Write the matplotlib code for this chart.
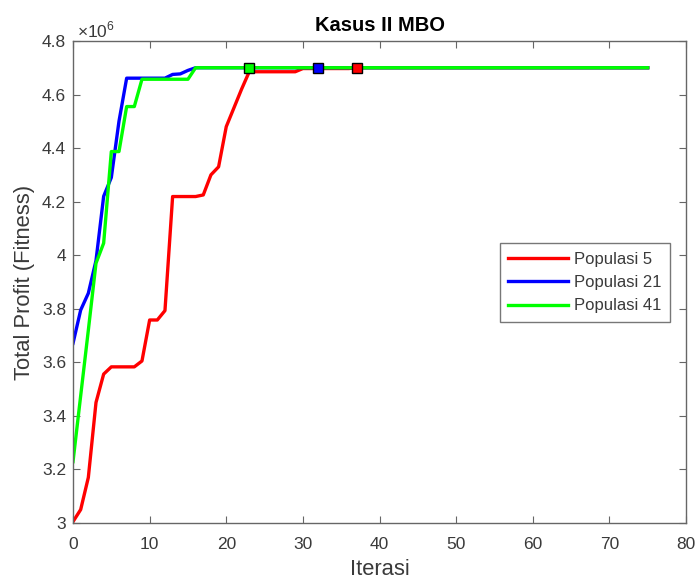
import numpy as np
import matplotlib.pyplot as plt
from matplotlib.ticker import FixedLocator, FixedFormatter

plt.rcParams['font.family'] = ['Liberation Sans', 'DejaVu Sans']
plt.rcParams['mathtext.fontset'] = 'custom'
plt.rcParams['mathtext.rm'] = 'Liberation Sans'

# data (values in millions), iterations 0..75
iterasi = list(range(76))
pop5 = ([3.005, 3.05, 3.17, 3.45, 3.556, 3.583, 3.583, 3.583, 3.583, 3.605,
         3.758, 3.758, 3.793, 4.219, 4.219, 4.219, 4.219, 4.225, 4.30, 4.33,
         4.48, 4.55, 4.62, 4.685, 4.685, 4.685, 4.685, 4.685, 4.685, 4.685]
        + [4.697] * 7 + [4.70] * 39)
pop21 = ([3.671, 3.795, 3.858, 3.98, 4.22, 4.29, 4.50, 4.661, 4.661, 4.661,
          4.661, 4.661, 4.661, 4.675, 4.677, 4.69] + [4.70] * 60)
pop41 = ([3.229, 3.475, 3.72, 3.97, 4.045, 4.387, 4.387, 4.555, 4.555, 4.657,
          4.657, 4.657, 4.657, 4.657, 4.657, 4.657] + [4.70] * 60)
# iteration where each population converged (square markers)
konvergen = {'Populasi 5': 37, 'Populasi 21': 32, 'Populasi 41': 23}

series = [('Populasi 5', pop5, '#ff0000'),
          ('Populasi 21', pop21, '#0000ff'),
          ('Populasi 41', pop41, '#00ff00')]

yticks = [3.0, 3.2, 3.4, 3.6, 3.8, 4.0, 4.2, 4.4, 4.6, 4.8]
ytick_labels = ['3', '3.2', '3.4', '3.6', '3.8', '4', '4.2', '4.4', '4.6', '4.8']
xticks = [0, 10, 20, 30, 40, 50, 60, 70, 80]

fig = plt.figure(figsize=(6.98, 5.85), dpi=100)
ax = fig.add_axes([0.1046, 0.106, 0.8782, 0.824])

for nama, nilai, warna in series:
    y = np.array(nilai) * 1e6
    ax.plot(iterasi, y, color=warna, lw=2.4, label=nama)

for nama, nilai, warna in series:
    k = konvergen[nama]
    ax.plot(k, nilai[k] * 1e6, 's', ms=6.5, mfc=warna, mec='black', mew=1.0)

ax.set_xlim(0, 80)
ax.set_ylim(3.0e6, 4.8e6)
ax.xaxis.set_major_locator(FixedLocator(xticks))
ax.yaxis.set_major_locator(FixedLocator([v * 1e6 for v in yticks]))
ax.yaxis.set_major_formatter(FixedFormatter(ytick_labels))

grey = '#3a3a3a'
for s in ax.spines.values():
    s.set_color('#666666')
    s.set_linewidth(1.0)
ax.tick_params(direction='in', top=True, right=True, length=5, width=0.8,
               colors='#666666', labelcolor=grey, labelsize=12.5)
ax.tick_params(axis='x', pad=10)
ax.tick_params(axis='y', pad=5)

ax.text(0.006, 1.002, r'$\times10^{6}$', transform=ax.transAxes, ha='left',
        va='bottom', fontsize=12.5, color=grey)
ax.set_title('Kasus II MBO', fontsize=14.5, fontweight='bold', color='black', pad=7)
ax.set_xlabel('Iterasi', fontsize=15.8, color=grey, labelpad=5)
ax.set_ylabel('Total Profit (Fitness)', fontsize=15.8, color=grey, labelpad=5)

leg = ax.legend(loc='upper right', bbox_to_anchor=(0.974, 0.580), borderaxespad=0,
                fontsize=12, handlelength=3.6, fancybox=False, framealpha=1,
                edgecolor='#777777', labelspacing=0.5, borderpad=0.5,
                handletextpad=0.35)
leg.get_frame().set_linewidth(1.0)
for t in leg.get_texts():
    t.set_color(grey)

fig.savefig('out.png', dpi=100)
